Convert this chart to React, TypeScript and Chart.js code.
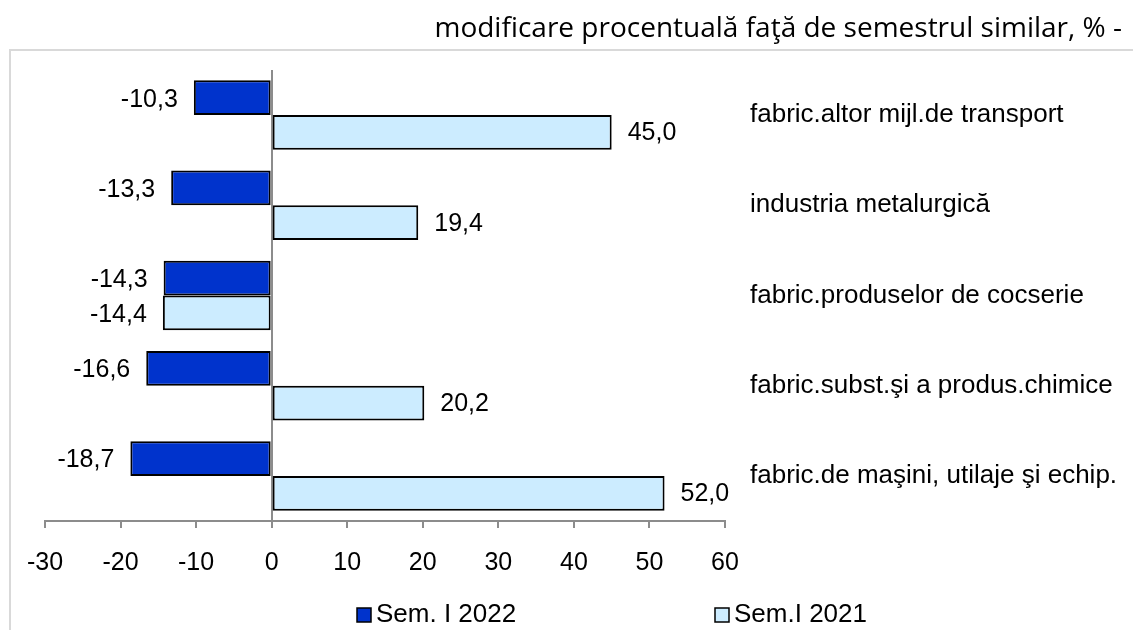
import React, { useEffect, useRef } from 'react';
import { Chart, registerables } from 'chart.js';

Chart.register(...registerables);

const categories = [
  'fabric.altor mijl.de transport',
  'industria metalurgică',
  'fabric.produselor de cocserie',
  'fabric.subst.şi a produs.chimice',
  'fabric.de maşini, utilaje şi echip.',
];
const sem2022 = [-10.3, -13.3, -14.3, -16.6, -18.7];
const sem2021 = [45.0, 19.4, -14.4, 20.2, 52.0];
const seriesNames = ['Sem. I 2022', 'Sem.I 2021'];
const xMin = -30;
const xMax = 60;
const xStep = 10;
const titleText = 'modificare procentuală faţă de semestrul similar, % -';

const ARIAL = '"Liberation Sans", Arial, sans-serif';
const fmt = (v: number) => v.toFixed(1).replace('.', ',');

const framePlugin = {
  id: 'frame',
  beforeDraw(chart: any) {
    const ctx = chart.ctx;
    ctx.save();
    ctx.strokeStyle = '#d9d9d9';
    ctx.lineWidth = 2;
    ctx.strokeRect(10, 50, 1400, 900);
    ctx.restore();
  },
};

const valueLabelsPlugin = {
  id: 'valueLabels',
  afterDatasetsDraw(chart: any) {
    const ctx = chart.ctx;
    ctx.save();
    ctx.font = `25px ${ARIAL}`;
    ctx.fillStyle = '#000';
    ctx.textBaseline = 'middle';
    chart.data.datasets.forEach((ds: any, di: number) => {
      const meta = chart.getDatasetMeta(di);
      meta.data.forEach((el: any, i: number) => {
        const v = ds.data[i];
        const txt = fmt(v);
        if (v < 0) {
          ctx.textAlign = 'right';
          ctx.fillText(txt, el.x - 16, el.y + 2);
        } else {
          ctx.textAlign = 'left';
          ctx.fillText(txt, el.x + 16, el.y + 1);
        }
      });
    });
    ctx.restore();
  },
};

const legendPlugin = {
  id: 'customLegend',
  afterDraw(chart: any) {
    const ctx = chart.ctx;
    const positions = [357, 715];
    const cy = 615;
    ctx.save();
    ctx.font = `26px ${ARIAL}`;
    ctx.textBaseline = 'middle';
    ctx.textAlign = 'left';
    chart.data.datasets.forEach((ds: any, i: number) => {
      const x = positions[i];
      ctx.fillStyle = ds.backgroundColor;
      ctx.fillRect(x, cy - 7, 14, 14);
      ctx.strokeStyle = '#000';
      ctx.lineWidth = 1.5;
      ctx.strokeRect(x, cy - 7, 14, 14);
      ctx.fillStyle = '#000';
      ctx.fillText(ds.label, x + 19, cy);
    });
    ctx.restore();
  },
};

export default function App() {
  const ref = useRef<HTMLCanvasElement | null>(null);

  useEffect(() => {
    if (!ref.current) return;
    const chart = new Chart(ref.current, {
      type: 'bar',
      data: {
        labels: categories,
        datasets: [
          {
            label: seriesNames[0],
            data: sem2022,
            backgroundColor: '#0033CC',
            borderColor: '#000000',
            borderWidth: 2,
            borderSkipped: false,
            categoryPercentage: 0.77,
            barPercentage: 1.0,
          },
          {
            label: seriesNames[1],
            data: sem2021,
            backgroundColor: '#CCECFF',
            borderColor: '#000000',
            borderWidth: 2,
            borderSkipped: false,
            categoryPercentage: 0.77,
            barPercentage: 1.0,
          },
        ],
      },
      options: {
        indexAxis: 'y',
        responsive: false,
        animation: false,
        devicePixelRatio: 1,
        layout: { padding: { left: 45, right: 11, top: 0, bottom: 0 } },
        plugins: {
          legend: { display: false },
          tooltip: { enabled: false },
          title: {
            display: true,
            text: titleText,
            align: 'end',
            color: '#000',
            font: { family: '"Open Sans", sans-serif', size: 28, weight: 'normal', lineHeight: 1.2 },
            padding: { top: 12, bottom: 24.4 },
          },
        },
        scales: {
          x: {
            type: 'linear',
            position: 'bottom',
            min: xMin,
            max: xMax,
            z: 1,
            afterFit: (s: any) => { s.height = 109; },
            ticks: {
              stepSize: xStep,
              color: '#000',
              padding: 20,
              font: { family: ARIAL, size: 25 },
              callback: (v: any) => String(v),
            },
            grid: {
              drawOnChartArea: true,
              drawTicks: true,
              tickLength: 7,
              lineWidth: 2,
              color: (c: any) => (c.tick && c.tick.value === 0 ? '#8c8c8c' : 'rgba(0,0,0,0)'),
              tickColor: '#8c8c8c',
            },
            border: { display: true, color: '#8c8c8c', width: 2 },
          },
          y: {
            type: 'category',
            position: 'right',
            offset: true,
            afterFit: (s: any) => { s.width = 397; },
            grid: { display: false, drawTicks: false },
            border: { display: false },
            ticks: {
              color: '#000',
              padding: 25,
              font: { family: ARIAL, size: 26 },
            },
          },
        },
      },
      plugins: [framePlugin, valueLabelsPlugin, legendPlugin],
    } as any);
    return () => chart.destroy();
  }, []);

  return (
    <div style={{ position: 'fixed', left: 0, top: 0, width: 1133, height: 630, background: '#fff' }}>
      <canvas ref={ref} width={1133} height={630} style={{ display: 'block' }} />
    </div>
  );
}
